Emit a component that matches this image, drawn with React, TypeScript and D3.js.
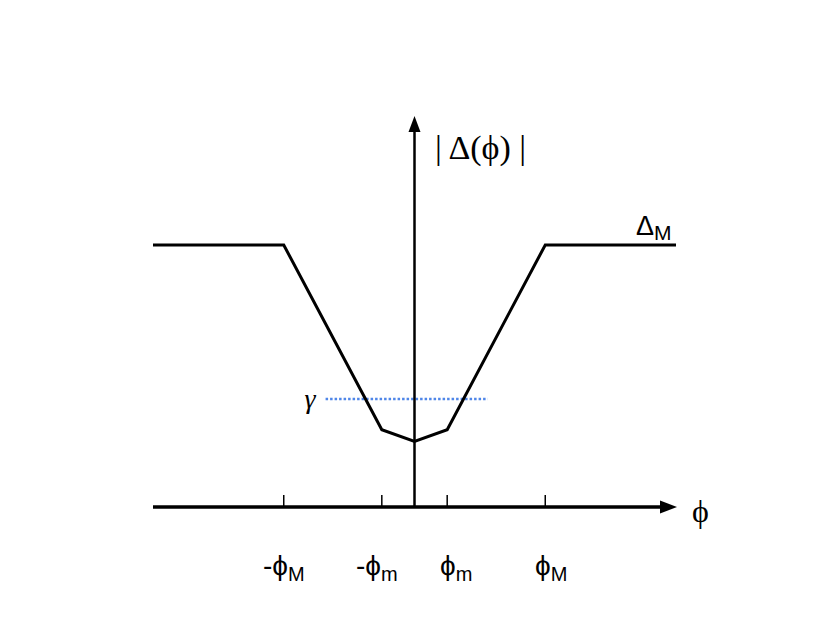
import React, { useEffect, useRef } from "react";
import * as d3 from "d3";

// curve |Delta(phi)|
const phiPoints = [-2, -1, -0.25, 0, 0.25, 1, 2];
const deltaValues = [1, 1, 0.295, 0.25, 0.295, 1, 1];
const tickPhi = [-1, -0.25, 0.25, 1];
const tickLabels = [
  { pre: "-ϕ", sub: "M" },
  { pre: "-ϕ", sub: "m" },
  { pre: "ϕ", sub: "m" },
  { pre: "ϕ", sub: "M" },
];
const labelOffsets = [0, -5, 9, 6];
const gammaValue = 0.412;
const gammaRange = [-0.68, 0.56];

const App = () => {
  const width = 830;
  const height = 623;
  const svgRef = useRef<SVGSVGElement>(null);

  useEffect(() => {
    if (!svgRef.current) return;
    const svg = d3.select(svgRef.current);
    svg.selectAll("*").remove();

    const x = d3.scaleLinear().domain([-2, 2]).range([153, 676]);
    const y = d3.scaleLinear().domain([0, 1]).range([507, 245]);
    const x0 = x(0);
    const y0 = y(0);

    const serif = "'Liberation Serif', 'Times New Roman', serif";
    const sans = "'Liberation Sans', Arial, sans-serif";

    // gamma dotted line
    svg
      .append("line")
      .attr("x1", x(gammaRange[0]))
      .attr("x2", x(gammaRange[1]))
      .attr("y1", y(gammaValue))
      .attr("y2", y(gammaValue))
      .attr("stroke", "#4f86e8")
      .attr("stroke-width", 2.5)
      .attr("stroke-dasharray", "2.5,2");

    svg
      .append("text")
      .attr("x", x(gammaRange[0]) - 10)
      .attr("y", y(gammaValue) + 9)
      .attr("text-anchor", "end")
      .style("font-family", serif)
      .style("font-style", "italic")
      .style("font-size", "28px")
      .text("γ");

    // x axis
    svg
      .append("line")
      .attr("x1", 153)
      .attr("x2", 664)
      .attr("y1", y0)
      .attr("y2", y0)
      .attr("stroke", "black")
      .attr("stroke-width", 3.5);
    svg
      .append("path")
      .attr("d", `M677,${y0} L660,${y0 - 6.5} L660,${y0 + 6.5} Z`)
      .attr("fill", "black");

    // y axis
    svg
      .append("line")
      .attr("x1", x0)
      .attr("x2", x0)
      .attr("y1", y0)
      .attr("y2", 128)
      .attr("stroke", "black")
      .attr("stroke-width", 2.5);
    svg
      .append("path")
      .attr("d", `M${x0},116 L${x0 - 6},132 L${x0 + 6},132 Z`)
      .attr("fill", "black");

    // ticks
    svg
      .selectAll(".tick")
      .data(tickPhi)
      .join("line")
      .attr("x1", (d) => x(d))
      .attr("x2", (d) => x(d))
      .attr("y1", y0 - 12)
      .attr("y2", y0)
      .attr("stroke", "black")
      .attr("stroke-width", 1.5);

    // tick labels
    tickPhi.forEach((p, i) => {
      const t = svg
        .append("text")
        .attr("x", x(p) + labelOffsets[i])
        .attr("y", 575)
        .attr("text-anchor", "middle")
        .style("font-family", sans)
        .style("font-size", "28px");
      t.append("tspan").text(tickLabels[i].pre);
      t.append("tspan")
        .attr("dy", 6)
        .style("font-size", "20px")
        .text(tickLabels[i].sub);
    });

    // curve
    const line = d3
      .line<number>()
      .x((d, i) => x(phiPoints[i]))
      .y((d) => y(d));
    svg
      .append("path")
      .datum(deltaValues)
      .attr("fill", "none")
      .attr("stroke", "black")
      .attr("stroke-width", 3)
      .attr("stroke-linejoin", "miter")
      .attr("d", line);

    // labels
    svg
      .append("text")
      .attr("x", 435)
      .attr("y", 159)
      .style("font-family", serif)
      .style("font-size", "34px")
      .style("white-space", "pre")
      .text("| Δ(ϕ) |");

    const dm = svg
      .append("text")
      .attr("x", 636)
      .attr("y", 235)
      .style("font-family", sans)
      .style("font-size", "27px");
    dm.append("tspan").text("Δ");
    dm.append("tspan").attr("dy", 5).style("font-size", "21px").text("M");

    svg
      .append("text")
      .attr("x", 692)
      .attr("y", 522)
      .style("font-family", serif)
      .style("font-size", "32px")
      .text("ϕ");
  }, []);

  return (
    <div>
      <svg
        ref={svgRef}
        width={width}
        height={height}
        style={{ position: "absolute", left: 0, top: 0 }}
      ></svg>
    </div>
  );
};

export default App;
